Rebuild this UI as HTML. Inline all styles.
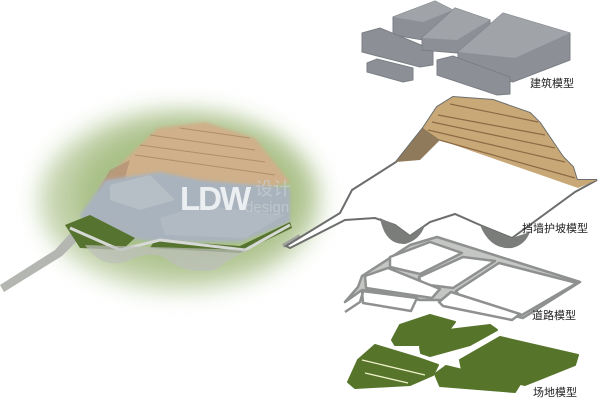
<!DOCTYPE html>
<html><head><meta charset="utf-8"><style>
html,body{margin:0;padding:0;background:#fff;width:600px;height:400px;overflow:hidden}
svg{display:block}
text{font-family:"Liberation Sans","Noto Sans CJK SC",sans-serif}
</style></head><body>
<svg width="600" height="400" viewBox="0 0 600 400" xmlns="http://www.w3.org/2000/svg">
<defs>
<filter id="b8" x="-30%" y="-30%" width="160%" height="160%"><feGaussianBlur stdDeviation="12"/></filter>
<filter id="b2"><feGaussianBlur stdDeviation="1.5"/></filter>
</defs>
<rect width="600" height="400" fill="#fff"/>

<g>
<ellipse cx="180" cy="200" rx="140" ry="90" fill="#c3d3ac" filter="url(#b8)"/>
<ellipse cx="190" cy="195" rx="115" ry="72" fill="#a9c087" filter="url(#b8)"/>
<path d="M0,285 L55,250 L75,228 L82,222 L88,230 L62,256 L4,292 Z" fill="#b4b6b2"/>
<path d="M100,185 L135,150 L158,128 L205,122 L255,138 L290,182 L255,192 L150,200 Z" fill="#cfb08a" filter="url(#b2)"/>
<g stroke="#a8875f" stroke-width="1" fill="none" opacity=".8">
<path d="M150,135 L255,150"/><path d="M140,145 L265,162"/><path d="M135,155 L275,175"/><path d="M180,128 L250,138"/>
</g>
<path d="M97,192 L110,170 L130,160 L120,195 Z" fill="#b08f74" opacity=".7"/>
<path d="M80,215 L105,180 L160,172 L200,180 L290,188 L290,222 L240,242 L160,242 L90,234 Z" fill="#a9b3bd" filter="url(#b2)"/>
<path d="M110,185 L150,175 L175,200 L140,210 L110,200 Z" fill="#b6bec6"/>
<path d="M160,218 L200,205 L285,215 L245,238 L165,235 Z" fill="#b1bac3"/>
<path d="M85,225 L105,218 L140,228 L128,245 L85,240 Z" fill="#aab3bb"/>
<path d="M65,225 L90,215 L135,238 L122,250 L80,248 Z" fill="#56732f"/>
<path d="M155,240 L240,246 L290,222 L292,228 L240,253 L150,248 Z" fill="#56732f"/>
<path d="M70,228 L120,250 L160,240 L245,250 L290,225" stroke="#d6d9d5" stroke-width="3" fill="none"/>
<path d="M85,245 Q100,268 125,262 Q150,250 165,258 Q185,275 215,270 Q235,255 250,250" fill="#bdbfbc" opacity=".7"/>
<path d="M283,246 L300,236" stroke="#a0a29f" stroke-width="4"/>
<text x="180" y="210" font-size="33" font-weight="bold" fill="#eceff2" style="letter-spacing:-2px">LDW</text>
<text x="255" y="195" font-size="18" fill="#ccd3d8" opacity=".6">设计</text>
<text x="245" y="212" font-size="15" fill="#ccd3d8" opacity=".6">design</text>
</g>

<g fill="#8c9096" stroke="#7b7f85" stroke-width="1">
<path d="M393,17 L435,1 L453,10 L453,25 L423,40 L393,35 Z"/>
<path d="M362,33 L380,28 L433,50 L433,65 L420,67 L362,52 Z"/>
<path d="M367,63 L377,59 L413,68 L413,80 L403,82 L367,72 Z"/>
<path d="M422,38 L455,8 L490,20 L490,33 L457,53 L422,50 Z"/>
<path d="M458,52 L503,13 L570,33 L570,60 L513,82 L458,70 Z"/>
<path d="M437,60 L453,56 L510,77 L510,94 L497,95 L437,75 Z"/>
</g>
<g fill="#a0a4a9">
<path d="M393,17 L435,1 L453,10 L423,22 Z"/><path d="M422,38 L455,8 L490,20 L457,40 Z"/>
<path d="M458,52 L503,13 L570,33 L515,58 Z"/>
</g>
<text x="530" y="87" font-size="11" fill="#222">建筑模型</text>

<path d="M423,128 L437,107 L453,97 L493,100 L530,113 L540,123 L563,157 L573,167 L577,180 L597,180 L575,192 L512,238 L480,225 L455,214 L430,222 L410,236 L395,225 L375,218 L345,220 L290,248 L286,246 L340,213 L352,190 L396,162 Z" fill="#fff" stroke="#6b6e6c" stroke-width="2"/>
<path d="M423,128 L437,107 L453,97 L493,100 L530,113 L540,123 L563,157 L573,167 L577,180 L597,180 L578,188 L440,140 L423,140 Z" fill="#c9a878"/>
<g stroke="#8c6a45" stroke-width="1.2" fill="none">
<path d="M438,115 L545,135"/><path d="M432,122 L555,148"/><path d="M428,130 L565,162"/><path d="M425,136 L575,178"/><path d="M450,104 L538,122"/>
</g>
<path d="M396,162 L423,128 L440,140 L420,160 Z" fill="#8f7a5c"/>
<path d="M380,218 Q385,245 405,244 Q420,240 425,225 L410,236 L395,225 Z" fill="#7a7d7a"/>
<path d="M480,225 Q490,250 512,248 Q525,245 530,232 L512,238 Z" fill="#7a7d7a"/>
<text x="522" y="232" font-size="11" fill="#222">挡墙护坡模型</text>

<g fill="#fff" stroke="#8e918f" stroke-width="2.5" stroke-linejoin="round">
<path d="M345,302 L358,287 L362,276 L410,245 L437,237 L580,282 L523,318 L450,300 L420,300 L380,292 L362,290 Z" fill="#c4c6c4"/>
<path d="M390,257 L430,242 L462,253 L420,274 L390,267 Z"/>
<path d="M419,277 L463,257 L495,261 L453,288 L421,284 Z"/>
<path d="M456,291 L499,263 L577,283 L522,315 L460,297 Z"/>
<path d="M365,276 L388,268 L440,289 L432,298 L366,288 Z"/>
<path d="M439,302 L451,292 L520,314 L512,320 L443,306 Z"/>
<path d="M362,291 L417,298 L411,311 L363,303 Z"/>
</g>
<path d="M363,292 L360,302 L345,312" stroke="#8e918f" stroke-width="2.5" fill="none"/>
<text x="532" y="319" font-size="11" fill="#222">道路模型</text>

<g fill="#56742a" stroke="#56742a" stroke-width="2" stroke-linejoin="round">
<path d="M392,340 L400,325 L430,315 L455,322 L445,335 L420,345 L395,345 Z"/>
<path d="M420,347 L440,331 L490,325 L497,330 L470,345 L430,356 L421,353 Z"/>
<path d="M460,360 L500,337 L578,355 L575,365 L525,385 L462,370 Z"/>
<path d="M348,382 L358,360 L375,345 L418,358 L438,365 L433,375 L410,385 L355,388 Z"/>
<path d="M435,374 L446,366 L520,384 L515,392 L440,386 Z"/>
</g>
<g stroke="#eef2c8" stroke-width="1.3" fill="none"><path d="M362,360 L425,375"/><path d="M365,373 L408,383"/></g>
<text x="533" y="396" font-size="11" fill="#222">场地模型</text>
</svg>
</body></html>
